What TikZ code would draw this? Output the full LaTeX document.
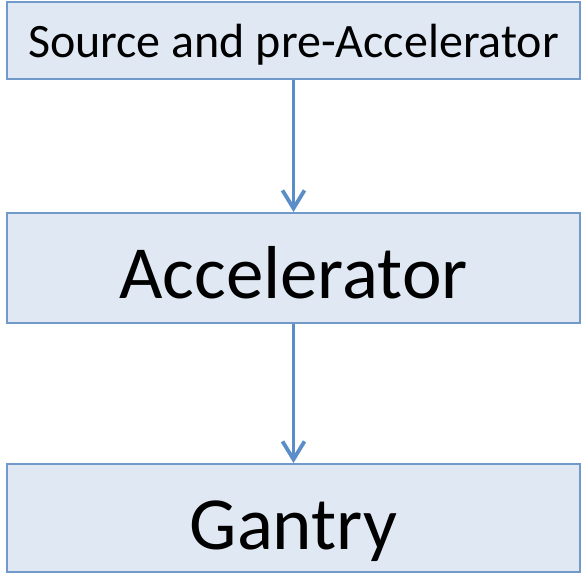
\documentclass[tikz,border=0pt]{standalone}
\usepackage{fontspec}
\setmainfont{Carlito}
\usepackage{xcolor}
\usetikzlibrary{arrows.meta}
\definecolor{boxfill}{HTML}{E0E8F3}
\definecolor{boxline}{HTML}{7199C9}
\definecolor{arrowblue}{HTML}{5B8DC8}
\tikzset{
  stage/.style={draw=boxline,fill=boxfill,line width=2pt,minimum width=573pt,inner sep=0pt,text depth=0pt},
  flow/.style={draw=arrowblue,line width=3.8pt,-{Straight Barb[length=18pt,width=22pt,line width=3.8pt]}}
}

\begin{document}
\begin{tikzpicture}[x=1pt,y=-1pt]
  \useasboundingbox (0,0) rectangle (581,573);
  \node[stage,minimum height=77pt,text height=33pt,font=\fontsize{48}{54}\selectfont] (source) at (293.5,40.5) {Source and pre-Accelerator};
  \node[stage,minimum height=110pt,text height=60pt,font=\fontsize{75}{84}\selectfont] (accel) at (293.5,268) {Accelerator};
  \node[stage,minimum height=108pt,text height=62pt,font=\fontsize{75}{84}\selectfont] (gantry) at (293.5,518) {Gantry};
  \draw[flow] (source.south) -- (accel.north);
  \draw[flow] (accel.south) -- (gantry.north);
\end{tikzpicture}
\end{document}
